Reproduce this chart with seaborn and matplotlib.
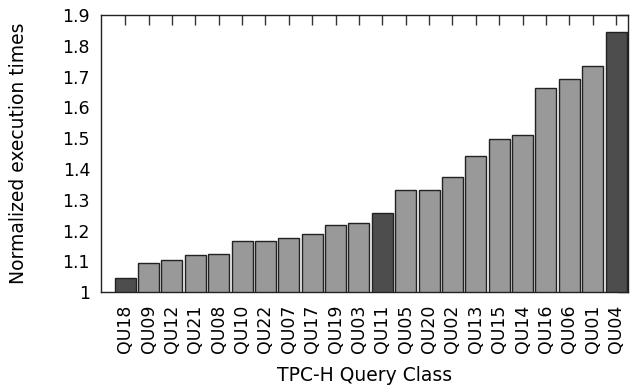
import numpy as np
import pandas as pd
import matplotlib
matplotlib.use("Agg")
import matplotlib.pyplot as plt
import seaborn as sns

queries = ["QU18", "QU09", "QU12", "QU21", "QU08", "QU10", "QU22", "QU07",
           "QU17", "QU19", "QU03", "QU11", "QU05", "QU20", "QU02", "QU13",
           "QU15", "QU14", "QU16", "QU06", "QU01", "QU04"]
times = [1.045, 1.096, 1.104, 1.120, 1.125, 1.165, 1.165, 1.175,
         1.188, 1.219, 1.226, 1.257, 1.331, 1.331, 1.373, 1.442,
         1.499, 1.509, 1.663, 1.691, 1.734, 1.844]
highlight = ["QU18", "QU11", "QU04"]

sns.set_style("white")
plt.rcParams["font.family"] = ["DejaVu Sans"]

df = pd.DataFrame({"query": queries, "time": times})
colors = ["#4d4d4d" if q in highlight else "#999999" for q in queries]

fig = plt.figure(figsize=(6.36, 3.87), dpi=100)
ax = fig.add_axes([0.159, 0.245, 0.828, 0.716])

sns.barplot(data=df, x="query", y="time", hue="query", palette=colors,
            legend=False, width=0.9, edgecolor="#222222", linewidth=1,
            saturation=1, ax=ax)

ax.set_ylim(1, 1.9)
ax.set_xlim(-1.03, 21.5)
ax.set_yticks(np.arange(1, 1.91, 0.1))
ax.set_yticklabels(["1", "1.1", "1.2", "1.3", "1.4", "1.5", "1.6", "1.7", "1.8", "1.9"])
ax.tick_params(axis="x", rotation=90, pad=9)
ax.tick_params(axis="y", pad=8)
ax.tick_params(direction="in", length=7.5, width=1, color="#333333",
               top=True, right=True, labelsize=12.5, labelcolor="black")
for s in ax.spines.values():
    s.set_color("#222222")
    s.set_linewidth(1)

ax.set_xlabel("TPC-H Query Class", fontsize=13.5, va="center", color="black")
ax.set_ylabel("Normalized execution times", fontsize=13.5, va="center", color="black")
ax.xaxis.set_label_coords(0.5, -0.30)
ax.yaxis.set_label_coords(-0.157, 0.5)

fig.savefig("out.png", dpi=100)
